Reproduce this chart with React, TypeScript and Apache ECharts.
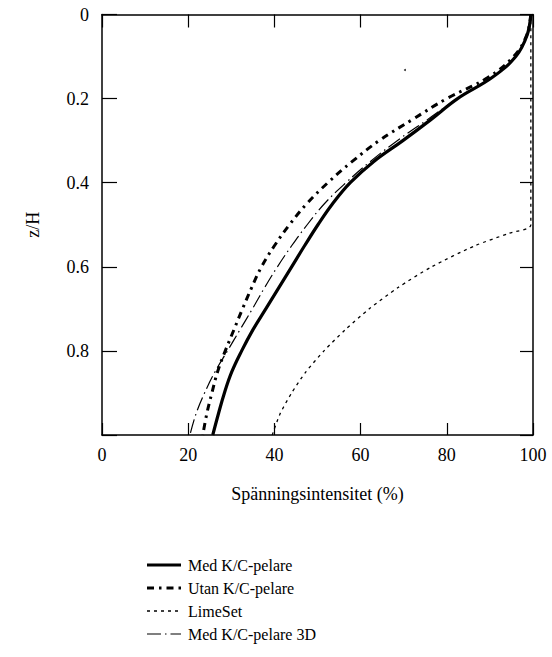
import React, { useEffect, useRef } from "react";
import * as echarts from "echarts";

const xTicks = [0, 20, 40, 60, 80, 100];
const yTicks = [0, 0.2, 0.4, 0.6, 0.8];

// depth levels (z/H) at which the curves were read
const zLevels = [0, 0.05, 0.1, 0.15, 0.2, 0.25, 0.3, 0.35, 0.4, 0.45, 0.5, 0.55, 0.6, 0.65, 0.7, 0.75, 0.8, 0.85, 0.9, 0.95, 1.0];

const medX = [99.5, 98.6, 96.0, 90.5, 82.5, 76.3, 69.8, 63.0, 57.6, 53.5, 50.1, 47.0, 44.0, 41.0, 38.0, 35.0, 32.4, 30.1, 28.4, 27.0, 25.7];
const utanX = [99.5, 98.5, 95.5, 89.5, 80.0, 72.0, 64.3, 58.0, 52.4, 47.5, 43.5, 40.0, 37.0, 34.7, 32.6, 30.6, 28.6, 26.8, 25.5, 24.3, 23.4];
const d3X = [99.5, 98.6, 96.0, 90.5, 82.5, 75.5, 68.5, 62.2, 56.6, 51.6, 47.6, 44.0, 40.7, 37.7, 34.9, 32.0, 29.1, 26.2, 23.8, 21.8, 20.4];

const limeZ = [0, 0.5, 0.52, 0.55, 0.6, 0.65, 0.7, 0.75, 0.8, 0.85, 0.9, 0.95, 1.0];
const limeX = [99.5, 99.5, 94.5, 86.5, 76.5, 68.6, 62.0, 56.4, 51.5, 47.3, 44.0, 41.3, 39.5];

const strayX = [70.3];
const strayZ = [0.132];

const names = ["Med K/C-pelare", "Utan K/C-pelare", "LimeSet", "Med K/C-pelare 3D"];

const pair = (xs: number[], zs: number[]) => xs.map((x, i) => [x, zs[i]]);

export default function App() {
  const ref = useRef<HTMLDivElement>(null);
  useEffect(() => {
    if (!ref.current) return;
    const chart = echarts.init(ref.current, undefined, { renderer: "svg" });
    const font = "Liberation Serif";
    const fs = 18;
    const axisLine = { show: true, onZero: false, lineStyle: { color: "#000", width: 1.5 } };
    const tick = { show: true, inside: true, length: 12, lineStyle: { color: "#000", width: 1.2 } };
    const styles = [
      { lineWidth: 3.2, lineDash: null as any, dash: "solid" as any },
      { lineWidth: 3, lineDash: [7, 5, 2.5, 5], dash: [7, 5, 2.5, 5] },
      { lineWidth: 1.3, lineDash: [3, 4], dash: [3, 4] },
      { lineWidth: 1.2, lineDash: [14, 4, 1.5, 4], dash: [14, 4, 1.5, 4] },
    ];
    const legendY = [565, 588, 611, 634];
    const legendGraphics: any[] = [];
    names.forEach((n, i) => {
      legendGraphics.push({
        type: "line",
        shape: { x1: 147, y1: legendY[i], x2: 181, y2: legendY[i] },
        style: { stroke: "#000", lineWidth: styles[i].lineWidth, lineDash: styles[i].lineDash || undefined },
      });
      legendGraphics.push({
        type: "text",
        x: 188,
        y: legendY[i],
        style: { text: n, fontFamily: font, fontSize: 16, fill: "#000", verticalAlign: "middle", align: "left" },
      });
    });
    const seriesData = [pair(medX, zLevels), pair(utanX, zLevels), pair(limeX, limeZ), pair(d3X, zLevels)];
    chart.setOption({
      animation: false,
      backgroundColor: "#fff",
      textStyle: { fontFamily: font, color: "#000" },
      grid: { left: 102, right: 19, top: 14.5, bottom: 222 },
      xAxis: [
        {
          type: "value", min: 0, max: 100, interval: 20, position: "bottom",
          axisLine, axisTick: tick, splitLine: { show: false },
          axisLabel: { fontFamily: font, fontSize: fs, color: "#000", margin: 11,
            formatter: (v: number) => (xTicks.includes(v) ? String(v) : "") },
          name: "Spänningsintensitet (%)", nameLocation: "middle", nameGap: 50,
          nameTextStyle: { fontFamily: font, fontSize: fs, color: "#000" },
        },
        {
          type: "value", min: 0, max: 100, interval: 20, position: "top",
          axisLine, axisTick: { ...tick, length: 13 }, axisLabel: { show: false }, splitLine: { show: false },
        },
      ],
      yAxis: [
        {
          type: "value", min: 0, max: 1, interval: 0.2, inverse: true, position: "left",
          axisLine, axisTick: { ...tick, length: 15 }, splitLine: { show: false },
          axisLabel: { fontFamily: font, fontSize: fs, color: "#000", margin: 13,
            formatter: (v: number) => {
              const t = yTicks.find((y) => Math.abs(y - v) < 1e-6);
              return t === undefined ? "" : String(t);
            } },
          name: "z/H", nameLocation: "middle", nameGap: 60, nameRotate: 90,
          nameTextStyle: { fontFamily: font, fontSize: fs, color: "#000" },
        },
        {
          type: "value", min: 0, max: 1, interval: 0.2, inverse: true, position: "right",
          axisLine, axisTick: { ...tick, length: 13 }, axisLabel: { show: false }, splitLine: { show: false },
        },
      ],
      graphic: legendGraphics,
      series: [
        ...names.map((n, i) => ({
          name: n, type: "line", data: seriesData[i], symbol: "none",
          smooth: i === 2 ? 0.25 : 0.4,
          lineStyle: { color: "#000", width: styles[i].lineWidth, type: styles[i].dash },
          itemStyle: { color: "#000" }, z: 3,
        })),
        {
          name: "stray", type: "scatter", data: pair(strayX, strayZ), symbolSize: 2,
          itemStyle: { color: "#000" }, silent: true,
        },
      ],
    });
    return () => chart.dispose();
  }, []);
  return <div ref={ref} style={{ width: 552, height: 657, position: "absolute", left: 0, top: 0 }} />;
}
